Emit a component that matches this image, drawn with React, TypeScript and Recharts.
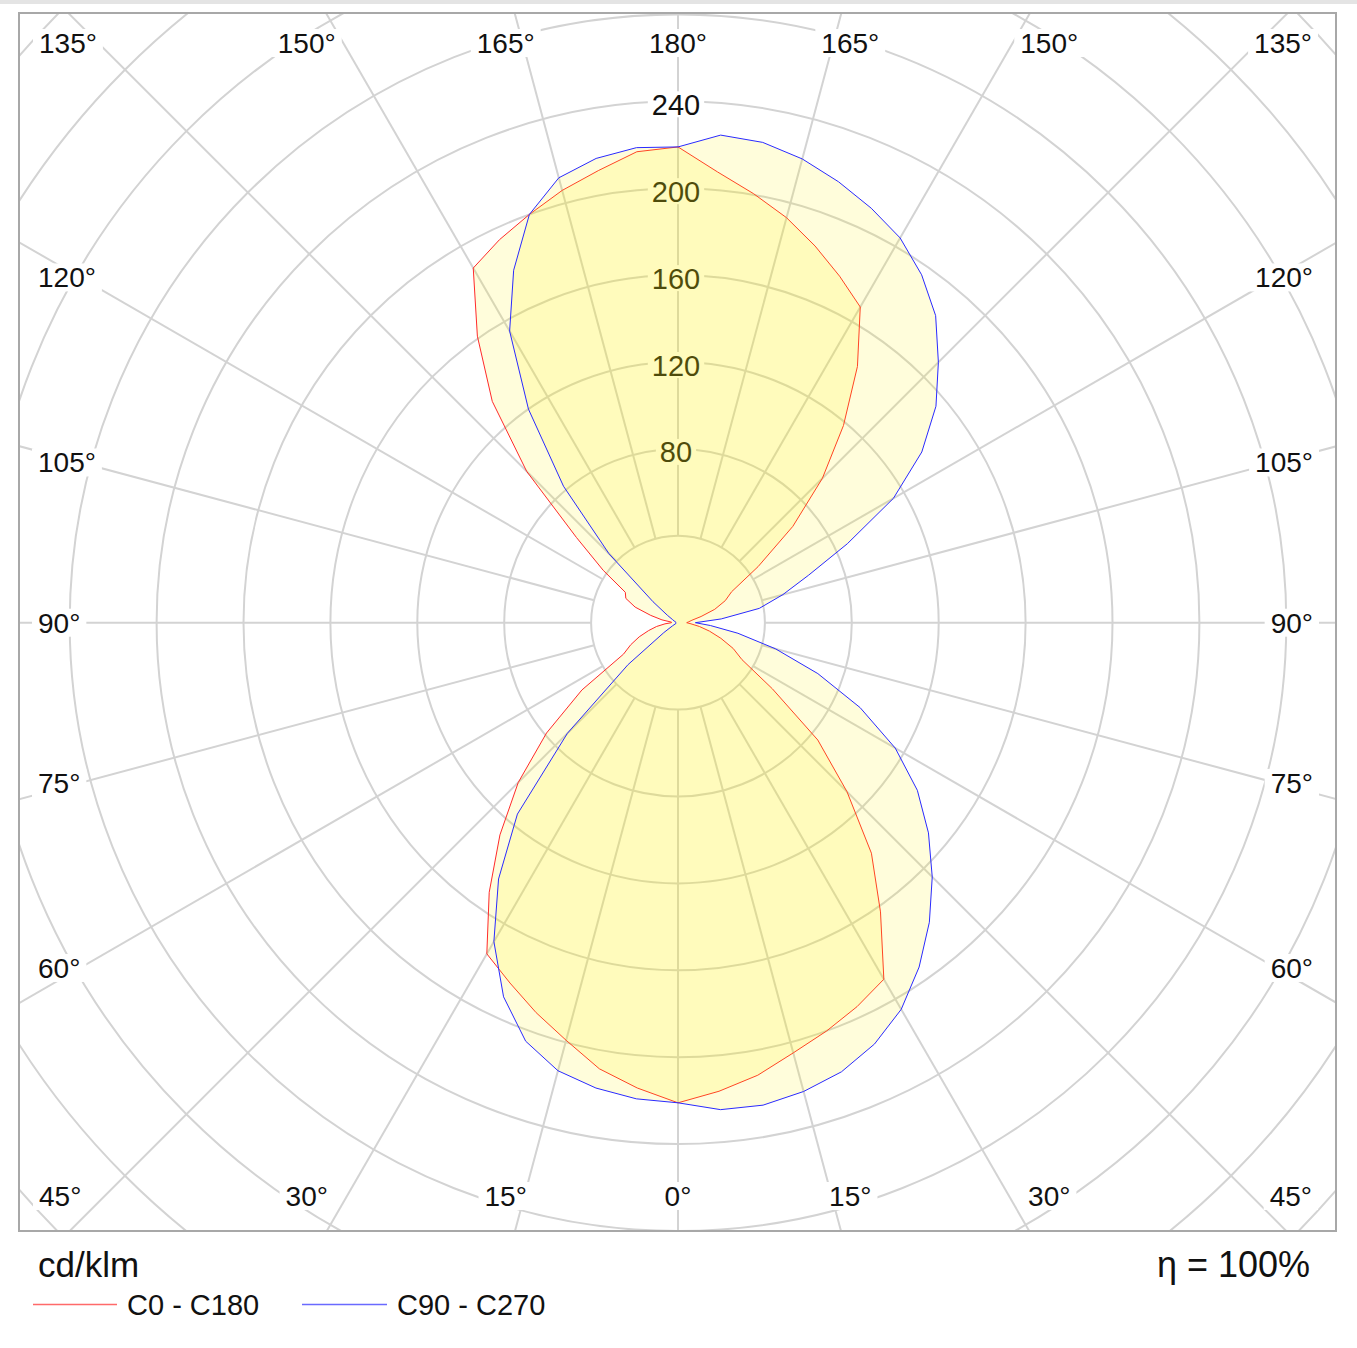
import React from 'react';
import { RadarChart, Radar, PolarGrid, PolarAngleAxis, PolarRadiusAxis } from 'recharts';

// ---------- data (cd/klm) ----------
const GAMMA = [0, 5, 10, 15, 20, 25, 30, 35, 40, 45, 50, 55, 60, 65, 70, 75, 80, 85, 90, 95, 100, 105, 110, 115, 120, 125, 130, 135, 140, 145, 150, 155, 160, 165, 170, 175, 180];
// C0 (right half of red curve)
const C0 = [221, 216.5, 211.5, 205, 200, 195, 189.5, 162.5, 138.5, 110, 84, 53, 34, 28, 21, 15, 10, 6, 4, 5, 6.5, 11, 18, 24, 28.5, 45, 69, 94, 118.5, 144, 167.8, 176, 184.5, 193, 200.5, 208.3, 219];
// C180 (left half of red curve)
const C180 = [221, 215, 208.5, 199, 191, 183, 176, 151.5, 127.5, 104, 79, 54, 29, 24, 19, 14, 10, 6, 3, 3, 7.5, 13, 21, 26.5, 28, 42, 61, 98.5, 133, 161, 188.5, 194.5, 200, 206, 211.3, 217.6, 219];
// C90 (right half of blue curve)
const C90 = [221, 225, 225.5, 223.4, 220, 214, 205.5, 193.5, 180, 165.5, 150.5, 134.5, 115.5, 92.5, 68.5, 46.5, 28, 15, 8, 20, 38, 50, 64, 86, 114.5, 137, 155, 169.5, 184.5, 195.5, 204.5, 210.5, 216, 221, 224.5, 225.3, 219];
// C270 (left half of blue curve)
const C270 = [221, 220, 217.5, 213.5, 205, 190, 169.5, 144, 115, 72, 30, 8, 3, 1.5, 1, 1, 1, 1, 1, 1, 1, 1, 1.5, 2, 3, 6, 15, 45, 82, 120, 155, 179, 200, 212, 217, 219.5, 219];

const RING_TICKS = [40, 80, 120, 160, 200, 240, 280, 320, 360, 400];
const RADIUS_LABELS = [80, 120, 160, 200, 240];
const SPOKE_GAMMA = [0, 15, 30, 45, 60, 75, 90, 105, 120, 135, 150, 165, 180];

const SERIES_RED = 'C0 - C180';
const SERIES_BLUE = 'C90 - C270';
const UNIT = 'cd/klm';
const EFFICIENCY = 'η = 100%';

// ---------- tables built for the library ----------
// going clockwise from the bottom: left half (0..180), then right half (175..5)
const curveRows = [
  ...GAMMA.map((g, i) => ({ key: `L${g}`, red: C180[i], blue: C270[i] })),
  ...GAMMA.map((g, i) => ({ g, i }))
    .slice(1, -1)
    .reverse()
    .map(({ g, i }) => ({ key: `R${g}`, red: C0[i], blue: C90[i] })),
];
const spokeRows = [
  ...SPOKE_GAMMA.map((g) => ({ key: `L${g}`, label: `${g}°` })),
  ...SPOKE_GAMMA.slice(1, -1)
    .reverse()
    .map((g) => ({ key: `R${g}`, label: `${g}°` })),
];

// ---------- layout ----------
const OX = 20; // svg origin on page
const OY = 14;
const W = 1315;
const H = 1216;
const CX = 658; // page 678
const CY = 608.7; // page 622.7
const PX_PER_UNIT = 2.1725;
const R_MAX = 400 * PX_PER_UNIT;
const R_MIN = 40 * PX_PER_UNIT;
const FONT = "'Liberation Sans', Arial, Helvetica, sans-serif";
const GRID = '#d3d3d3';

function textWidth(s: string, fs: number) {
  let w = 0;
  for (const ch of s) w += ch === '°' ? 0.4 : 0.556;
  return w * fs;
}

function AngleTick(props: any) {
  const { x, y, payload } = props;
  const row = spokeRows.find((r) => r.key === payload?.value);
  if (!row) return <g />;
  const dx = x - CX;
  const dy = y - CY;
  const fs = 28;
  const label = row.label;
  const w = textWidth(label, fs);
  let tx: number;
  let ty: number;
  let anchor: 'start' | 'middle' | 'end';
  if (Math.abs(dx) / 658 > Math.abs(dy) / 609) {
    const s = 598 / Math.abs(dx);
    ty = CY + dy * s;
    if (dx < 0) {
      tx = 38 - OX;
      anchor = 'start';
    } else {
      tx = 1313 - OX;
      anchor = 'end';
    }
  } else {
    const s = 643 / Math.abs(dy);
    tx = CX + dx * s;
    anchor = 'middle';
    if (tx < 69 - OX) {
      tx = 39 - OX;
      anchor = 'start';
    } else if (tx > 1287 - OX) {
      tx = 1312 - OX;
      anchor = 'end';
    }
    ty = dy < 0 ? 43 - OY : 1196 - OY;
  }
  const left = anchor === 'start' ? tx : anchor === 'end' ? tx - w : tx - w / 2;
  return (
    <g>
      <rect x={left - 6} y={ty - 14} width={w + 12} height={28} fill="#ffffff" />
      <text x={tx} y={ty + 10} textAnchor={anchor} fontSize={fs} fontFamily={FONT} fill="#111">
        {label}
      </text>
    </g>
  );
}

function RadiusTick(props: any) {
  const { x, y, payload } = props;
  if (!RADIUS_LABELS.includes(payload?.value)) return <g />;
  const s = String(payload.value);
  const fs = 29;
  const w = textWidth(s, fs);
  const tx = x - 2;
  const ty = y + 3;
  return (
    <g>
      <rect x={tx - w / 2 - 4} y={ty - 13} width={w + 8} height={26} fill="#ffffff" />
      <text x={tx} y={ty + 10.5} textAnchor="middle" fontSize={fs} fontFamily={FONT} fill="#111">
        {s}
      </text>
    </g>
  );
}

export default function App() {
  return (
    <div style={{ position: 'absolute', left: 0, top: 0, width: 1357, height: 1348, background: '#fff', overflow: 'hidden' }}>
      <div style={{ position: 'absolute', left: 0, top: 0, width: 1357, height: 4, background: '#e4e4e4' }} />
      <div
        style={{
          position: 'absolute',
          left: 18,
          top: 12,
          width: 1319,
          height: 1220,
          border: '2px solid #a8a8a8',
          boxSizing: 'border-box',
        }}
      />
      <div style={{ position: 'absolute', left: OX, top: OY, width: W, height: H, overflow: 'hidden' }}>
        <div style={{ position: 'absolute', left: 0, top: 0 }}>
          <RadarChart
            width={W}
            height={H}
            data={spokeRows}
            cx={CX}
            cy={CY}
            innerRadius={R_MIN}
            outerRadius={R_MAX}
            startAngle={270}
            endAngle={-90}
            margin={{ top: 0, right: 0, bottom: 0, left: 0 }}
          >
            <PolarGrid gridType="circle" stroke={GRID} strokeWidth={2} />
            <PolarAngleAxis dataKey="key" tick={AngleTick} axisLine={false} tickLine={false} />
            <PolarRadiusAxis
              angle={90}
              type="number"
              domain={[40, 400]}
              allowDataOverflow
              ticks={RING_TICKS}
              tick={RadiusTick}
              axisLine={false}
            />
          </RadarChart>
        </div>
        <div style={{ position: 'absolute', left: 0, top: 0 }}>
          <RadarChart
            width={W}
            height={H}
            data={curveRows}
            cx={CX}
            cy={CY}
            innerRadius={0}
            outerRadius={R_MAX}
            startAngle={270}
            endAngle={-90}
            margin={{ top: 0, right: 0, bottom: 0, left: 0 }}
          >
            <PolarAngleAxis dataKey="key" tick={false} axisLine={false} tickLine={false} />
            <PolarRadiusAxis angle={90} type="number" domain={[0, 400]} allowDataOverflow tick={false} axisLine={false} />
            <Radar
              name={SERIES_RED}
              dataKey="red"
              stroke="#ff2a2a"
              strokeWidth={1}
              fill="#fff000"
              fillOpacity={0.14}
              dot={false}
              isAnimationActive={false}
            />
            <Radar
              name={SERIES_BLUE}
              dataKey="blue"
              stroke="#2a2aff"
              strokeWidth={1}
              fill="#fff000"
              fillOpacity={0.14}
              dot={false}
              isAnimationActive={false}
            />
          </RadarChart>
        </div>
      </div>
      <svg width={1357} height={110} style={{ position: 'absolute', left: 0, top: 1238 }}>
        <text x={38} y={39} fontSize={35} fontFamily={FONT} fill="#111">
          {UNIT}
        </text>
        <text x={1310} y={39} fontSize={36} fontFamily={FONT} fill="#111" textAnchor="end">
          {EFFICIENCY}
        </text>
        <line x1={33} x2={117} y1={66.5} y2={66.5} stroke="#ff6a6a" strokeWidth={1.5} />
        <text x={127} y={77} fontSize={29} fontFamily={FONT} fill="#111">
          {SERIES_RED}
        </text>
        <line x1={302} x2={387} y1={66.5} y2={66.5} stroke="#6a6aff" strokeWidth={1.5} />
        <text x={397} y={77} fontSize={29} fontFamily={FONT} fill="#111">
          {SERIES_BLUE}
        </text>
      </svg>
    </div>
  );
}
